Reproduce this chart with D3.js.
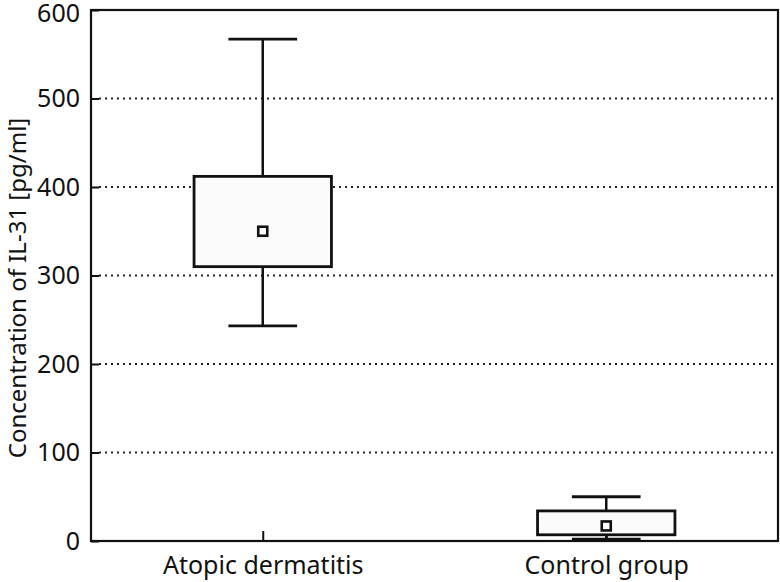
<!DOCTYPE html>
<html><head><meta charset="utf-8">
<script src="https://cdn.jsdelivr.net/npm/d3@7"></script>
<style>body{margin:0;background:#fff}svg{display:block}text{font-family:"Noto Sans",sans-serif;fill:#111}</style>
</head><body>
<svg id="c" width="780" height="582"></svg>
<script>
const categories = ["Atopic dermatitis", "Control group"];
const whiskerLow = [243, 2];
const q1 = [310, 7];
const mean = [350, 17];
const q3 = [412, 34];
const whiskerHigh = [567, 50];
const yTicks = [0, 100, 200, 300, 400, 500, 600];
const yTitle = "Concentration of IL-31 [pg/ml]";

const L = 91, R = 778, T = 10, B = 541;
const svg = d3.select("#c");
const x = d3.scalePoint().domain(categories).range([L, R]).padding(0.5);
const y = d3.scaleLinear().domain([0, 600]).range([B, T]);
const step = x.step();

// grid
svg.append("g").selectAll("line").data(yTicks.filter(d => d > 0 && d < 600)).join("line")
  .attr("x1", L + 8).attr("x2", R).attr("y1", d => y(d)).attr("y2", d => y(d))
  .attr("stroke", "#222").attr("stroke-width", 2).attr("stroke-dasharray", "2,4");

// y axis
const ya = svg.append("g").attr("transform", `translate(${L},0)`)
  .call(d3.axisLeft(y).tickValues(yTicks).tickSize(-8).tickPadding(11));
ya.select(".domain").remove();
ya.selectAll("line").attr("stroke", "#111").attr("stroke-width", 2);
ya.selectAll("text").style("font-size", "25px").attr("fill", "#111");
ya.selectAll(".tick").filter(d => d === 600).select("text").attr("dy", "0.45em");

// x axis
const xa = svg.append("g").attr("transform", `translate(0,${B})`)
  .call(d3.axisBottom(x).tickSize(-10).tickPadding(15));
xa.select(".domain").remove();
xa.selectAll("line").attr("stroke", "#111").attr("stroke-width", 2);
xa.selectAll("text").style("font-size", "25px").attr("fill", "#111");

// frame
svg.append("rect").attr("x", L).attr("y", T).attr("width", R - L).attr("height", B - T)
  .attr("fill", "none").attr("stroke", "#111").attr("stroke-width", 2.2);

// boxes
const bw = step * 0.4, cw = step * 0.2;
const g = svg.append("g").selectAll("g").data(categories).join("g");
g.append("line").attr("x1", d => x(d)).attr("x2", d => x(d))
  .attr("y1", (d, i) => y(whiskerLow[i])).attr("y2", (d, i) => y(whiskerHigh[i]))
  .attr("stroke", "#111").attr("stroke-width", 2.5);
g.append("line").attr("x1", d => x(d) - cw / 2).attr("x2", d => x(d) + cw / 2)
  .attr("y1", (d, i) => y(whiskerHigh[i])).attr("y2", (d, i) => y(whiskerHigh[i]))
  .attr("stroke", "#111").attr("stroke-width", 2.8);
g.append("line").attr("x1", d => x(d) - cw / 2).attr("x2", d => x(d) + cw / 2)
  .attr("y1", (d, i) => y(whiskerLow[i])).attr("y2", (d, i) => y(whiskerLow[i]))
  .attr("stroke", "#111").attr("stroke-width", 2.8);
g.append("rect").attr("x", d => x(d) - bw / 2).attr("width", bw)
  .attr("y", (d, i) => y(q3[i])).attr("height", (d, i) => y(q1[i]) - y(q3[i]))
  .attr("fill", "#fbfbfb").attr("stroke", "#111").attr("stroke-width", 2.8);
g.append("rect").attr("x", d => x(d) - 4.5).attr("width", 9)
  .attr("y", (d, i) => y(mean[i]) - 4.5).attr("height", 9)
  .attr("fill", "#fff").attr("stroke", "#111").attr("stroke-width", 2.6);

// y title
svg.append("text").attr("transform", "translate(26,288) rotate(-90)")
  .attr("text-anchor", "middle").style("font-size", "24px").text(yTitle);
</script>
</body></html>
